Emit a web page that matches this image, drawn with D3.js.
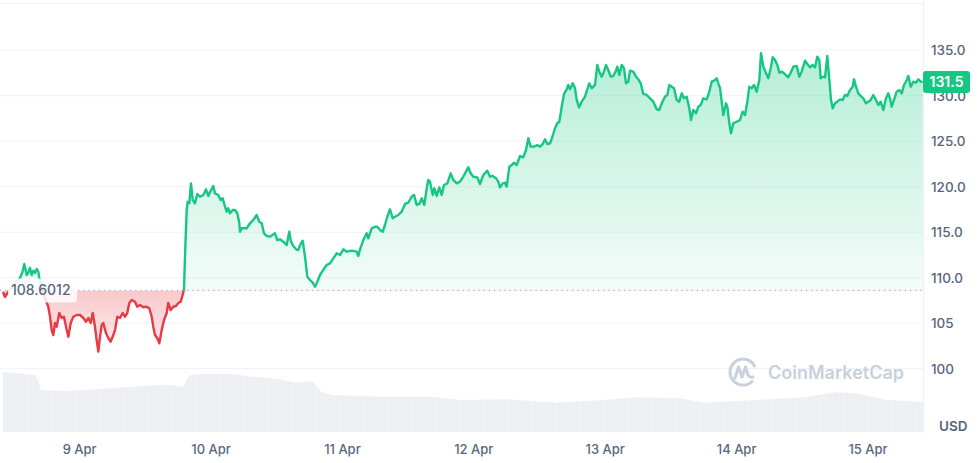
<!DOCTYPE html>
<html>
<head>
<meta charset="utf-8">
<script src="https://cdn.jsdelivr.net/npm/d3@7"></script>
<style>
  body { margin: 0; background: #fff; font-family: Inter, "Noto Sans", sans-serif; }
  .axis text { fill: #58667e; font-size: 13px; font-family: Inter, sans-serif; font-weight: 500; }
  .y-axis text { font-size: 13.5px; }
</style>
</head>
<body>
<div id="chart"></div>
<script>
(function () {

  // hours after 8 Apr 00:00
  var priceHours = [
    10.10,10.47,11.38,12.29,13.21,13.66,13.99,14.43,14.72,15.03,15.34,15.63,15.95,16.26,16.55,16.73,17.22,17.77,18.37,18.69,
    19.00,19.29,19.60,19.91,20.38,20.82,21.24,21.74,22.03,22.47,22.94,23.56,24.16,24.77,25.26,25.68,26.12,26.48,26.90,27.21,
    27.51,27.82,28.13,28.42,28.91,29.33,29.77,30.25,30.56,30.98,31.47,31.96,32.38,32.80,33.17,33.61,34.21,34.63,35.12,35.73,
    36.35,36.82,37.26,37.55,37.86,38.28,38.65,39.09,39.51,40.00,40.29,40.73,41.21,41.70,42.12,42.56,42.92,43.16,43.40,43.65,
    43.84,44.13,44.44,44.75,45.17,45.59,46.08,46.69,47.18,47.60,48.04,48.51,48.82,49.42,49.86,50.23,50.65,50.96,51.25,51.56,
    52.06,52.48,52.90,53.26,53.39,53.70,54.61,55.22,55.82,56.44,56.91,57.35,57.77,58.27,58.87,59.78,60.20,60.69,61.30,61.92,
    62.39,62.70,63.12,63.62,64.04,64.35,64.84,65.26,65.68,66.17,66.67,67.09,67.51,68.00,68.60,69.22,69.83,70.43,71.05,71.65,
    72.26,72.88,73.79,74.70,75.00,75.31,75.91,76.53,76.82,77.44,78.05,78.47,78.96,79.45,79.87,80.29,80.79,81.28,81.70,82.30,
    82.92,83.53,84.13,84.75,85.17,85.66,86.14,86.58,87.05,87.49,87.78,88.09,88.59,88.88,89.32,89.79,90.23,90.65,91.25,91.87,
    92.35,92.97,93.57,94.17,94.67,95.09,95.53,96.00,96.73,97.22,97.83,98.56,99.05,99.54,100.15,100.57,100.88,101.37,101.79,102.10,
    102.58,103.01,103.43,103.93,104.53,105.13,105.63,106.05,106.48,107.09,107.69,108.18,108.68,109.10,109.52,110.01,110.50,110.92,111.34,111.71,
    112.15,112.57,113.06,113.35,113.66,114.16,114.58,114.89,115.31,115.80,116.40,116.82,117.19,117.63,118.23,118.65,119.02,119.45,119.87,120.24,
    120.66,121.10,121.57,122.06,122.30,122.67,123.11,123.53,123.89,124.31,124.62,125.22,125.72,126.14,126.58,127.05,127.67,128.28,128.88,129.50,
    129.97,130.41,131.01,131.43,131.80,132.24,132.66,133.15,133.63,134.07,134.49,134.98,135.45,135.76,136.18,136.68,137.10,137.54,138.01,138.63,
    139.11,139.54,139.96,140.46,140.75,141.06,141.37,141.66,142.16,142.40,142.76,143.07,143.49,144.11,144.71,145.21,145.63,146.05,146.41,146.85,
    147.27,147.76,148.24,148.55,148.97,149.46,149.88,150.32,150.69,151.11,151.53,151.89,152.33,152.75,153.12,153.54,153.97,154.45,155.07,155.54,
    155.98,156.59,157.01,157.50,157.99,158.41,158.83,159.20,159.45,159.82,160.24,160.66,161.03,161.33,161.65,162.07,162.49,162.98,163.47,163.89,
    164.31,164.81,165.30,165.54,165.90,166.32,166.76,167.23,167.73,168.15,168.59,169.06,169.55,169.98,170.41,170.89,171.38,171.80,172.11,172.42,
    172.84,173.33,173.81,174.25,174.67,175.16,175.45,175.89,176.37,176.86,177.28,177.72,178.08
  ]

  var priceValues = [
    108.43,107.88,108.76,109.31,109.97,110.63,111.51,110.30,110.52,111.07,110.30,110.77,110.52,110.96,110.66,109.97,108.87,107.77,106.81,105.71,
    104.25,103.70,105.02,104.62,106.12,105.57,105.71,104.25,103.52,105.02,105.71,105.90,105.90,105.57,105.16,105.57,105.02,106.12,104.62,103.15,
    101.87,103.52,104.80,105.02,103.92,103.37,102.97,103.70,104.25,105.71,105.57,106.12,105.71,106.12,107.22,107.55,107.36,106.81,107.00,106.75,
    106.81,106.64,105.71,104.62,103.70,103.34,102.79,104.25,105.35,106.12,107.22,106.45,106.81,106.89,107.22,107.36,108.10,108.73,113.41,117.44,
    118.35,118.18,120.37,118.54,118.18,119.20,118.90,119.09,119.71,118.98,119.56,120.08,119.27,119.09,118.54,118.73,117.80,117.25,117.63,117.08,
    117.44,117.44,117.08,116.01,115.05,115.43,115.43,115.98,116.34,116.89,116.15,115.98,114.88,114.58,114.51,114.88,114.14,114.22,113.96,113.59,
    115.05,113.96,113.48,113.12,113.04,113.59,114.07,112.31,110.11,109.75,109.45,109.01,109.56,110.30,110.85,111.40,111.58,112.13,112.68,112.49,
    113.12,112.86,112.97,112.86,112.38,113.12,114.14,114.88,114.33,115.43,115.60,115.60,115.24,115.05,115.79,116.70,117.52,116.53,116.70,116.89,
    117.25,118.10,118.24,118.90,119.09,117.99,118.10,118.73,117.99,119.82,120.74,120.55,119.09,119.82,118.98,119.93,119.09,120.19,120.37,121.47,
    120.74,120.37,120.55,121.10,121.65,122.13,121.47,121.10,121.03,120.30,121.29,121.76,121.10,121.18,120.92,120.55,119.93,120.37,120.44,120.00,
    122.20,122.38,122.64,122.38,123.37,123.23,124.03,125.32,124.40,124.40,124.58,124.40,124.69,125.21,124.69,124.77,125.57,126.42,126.97,127.14,
    128.79,130.19,130.70,131.18,130.70,131.36,130.81,129.53,128.72,129.34,129.89,130.70,131.36,130.81,131.18,133.37,132.64,132.09,132.64,133.37,
    132.82,132.09,132.16,132.75,133.19,132.27,133.37,133.01,131.36,131.54,132.75,132.64,132.09,131.80,131.36,130.19,130.08,129.71,129.34,128.51,
    128.43,129.16,129.89,130.08,131.18,130.99,130.81,129.53,129.34,130.26,129.71,129.89,128.62,127.33,128.43,128.07,128.79,128.98,129.71,129.60,
    130.44,131.54,131.65,131.91,131.36,130.85,129.34,127.88,129.16,128.79,126.97,125.87,126.97,127.14,127.33,128.24,127.88,129.34,130.99,130.81,
    131.18,130.44,131.73,134.66,133.19,132.46,131.91,133.01,134.22,133.92,133.37,132.53,132.64,132.46,132.27,132.02,132.53,133.19,133.26,132.09,
    132.64,133.85,133.48,133.12,133.37,133.12,134.29,133.92,131.91,132.09,132.02,134.36,131.73,129.53,128.62,129.16,129.34,129.60,129.53,130.08,
    129.97,130.63,130.99,131.80,130.99,130.26,129.97,129.71,129.16,129.34,129.53,130.08,129.53,128.98,129.34,128.43,129.71,130.26,129.71,128.79,
    129.53,130.44,130.63,130.26,131.18,131.73,132.16,130.99,131.54,131.43,131.80,131.54,131.50
  ]

  var volumeHours = [10.10,15.95,16.49,17.04,21.79,27.82,33.30,36.95,40.60,42.98,43.53,44.26,46.08,51.56,55.76,60.15,63.80,66.54,
    67.64,68.37,70.19,78.96,88.46,93.57,102.34,111.11,119.87,125.72,133.75,138.14,147.64,156.40,162.25,165.90,171.75,178.08]
  var volumeValues = [100,95,86.7,70,68.3,71.7,75,77.5,78.3,75,85,95,96.7,96.7,92.2,88.3,82.2,85,
    73.3,66.7,61.7,58.8,58.8,53.3,54.5,48.8,53.3,57.8,56.2,48.8,53.3,57.8,66.2,64.5,53.3,50]

  var openPrice = 108.6012
  var lastPrice = 131.5
  var yTicks = [100, 105, 110, 115, 120, 125, 130, 135]
  var yTickLabels = ['100', '105', '110.0', '115.0', '120.0', '125.0', '130.0', '135.0']
  var xTickDays = [9, 10, 11, 12, 13, 14, 15]

  var width = 978, height = 463, plotRight = 923
  var green = '#16c784', red = '#ea3943'

  var startDay = Date.UTC(2024, 3, 8)
  function hourToDate(h) { return new Date(startDay + h * 3600 * 1000) }

  var svg = d3.select('#chart')
    .append('svg')
    .attr('width', width)
    .attr('height', height)
    .style('display', 'block')

  var xPositionScale = d3.scaleUtc()
    .domain([hourToDate(0), hourToDate(192)])
    .range([-52.3, 998.9])

  var yPositionScale = d3.scaleLinear()
    .domain([100, 135])
    .range([368.7, 50.2])

  var volumeScale = d3.scaleLinear()
    .domain([0, 100])
    .range([432, 372])

  var points = priceHours.map(function (h, i) {
    return { date: hourToDate(h), price: priceValues[i] }
  })
  var volPoints = volumeHours.map(function (h, i) {
    return { date: hourToDate(h), volume: volumeValues[i] }
  })

  var baseY = yPositionScale(openPrice)

  var defs = svg.append('defs')
  defs.append('clipPath').attr('id', 'above-clip')
    .append('rect').attr('x', 0).attr('y', 0).attr('width', plotRight).attr('height', baseY)
  defs.append('clipPath').attr('id', 'below-clip')
    .append('rect').attr('x', 0).attr('y', baseY).attr('width', plotRight).attr('height', height - baseY)

  var gGreen = defs.append('linearGradient').attr('id', 'grad-green')
    .attr('gradientUnits', 'userSpaceOnUse')
    .attr('x1', 0).attr('x2', 0).attr('y1', 50).attr('y2', baseY)
  gGreen.append('stop').attr('offset', 0).attr('stop-color', green).attr('stop-opacity', 0.32)
  gGreen.append('stop').attr('offset', 1).attr('stop-color', green).attr('stop-opacity', 0.05)

  var gRed = defs.append('linearGradient').attr('id', 'grad-red')
    .attr('gradientUnits', 'userSpaceOnUse')
    .attr('x1', 0).attr('x2', 0).attr('y1', baseY).attr('y2', 355)
  gRed.append('stop').attr('offset', 0).attr('stop-color', red).attr('stop-opacity', 0.28)
  gRed.append('stop').attr('offset', 1).attr('stop-color', red).attr('stop-opacity', 0.07)

  var pat = defs.append('pattern').attr('id', 'vol-pattern')
    .attr('patternUnits', 'userSpaceOnUse')
    .attr('width', 3).attr('height', 10)
  pat.append('rect').attr('width', 3).attr('height', 10).attr('fill', '#eceef2')
  pat.append('rect').attr('x', 2.2).attr('width', 0.8).attr('height', 10).attr('fill', '#f4f5f7')

  // grid
  svg.append('line')
    .attr('x1', 0).attr('x2', plotRight)
    .attr('y1', 3.5).attr('y2', 3.5)
    .attr('stroke', '#f0f2f5')

  svg.selectAll('.grid')
    .data(yTicks)
    .enter().append('line')
    .attr('class', 'grid')
    .attr('x1', 0).attr('x2', plotRight)
    .attr('y1', function (d) { return yPositionScale(d) })
    .attr('y2', function (d) { return yPositionScale(d) })
    .attr('stroke', '#eff2f5')
    .attr('stroke-width', 1)

  svg.append('line')
    .attr('x1', plotRight + 0.5).attr('x2', plotRight + 0.5)
    .attr('y1', 0).attr('y2', 433)
    .attr('stroke', '#eceff3')

  // volume
  var volArea = d3.area()
    .x(function (d) { return xPositionScale(d.date) })
    .y0(volumeScale(0))
    .y1(function (d) { return volumeScale(d.volume) })

  svg.append('path')
    .datum(volPoints)
    .attr('d', volArea)
    .attr('fill', 'url(#vol-pattern)')

  // watermark
  var wm = svg.append('g').attr('transform', 'translate(743,372)')
  wm.append('path')
    .attr('d', 'M 9 9.5 A 13 13 0 1 1 11.5 -6')
    .attr('fill', 'none')
    .attr('stroke', '#c9d0dc')
    .attr('stroke-width', 3)
    .attr('stroke-linecap', 'round')
  wm.append('path')
    .attr('d', 'M -8 6 L -4.5 -5 L -1 5 L 2.5 -5 L 5 3 Q 7 6 10 5')
    .attr('fill', 'none')
    .attr('stroke', '#c9d0dc')
    .attr('stroke-width', 3)
    .attr('stroke-linecap', 'round')
    .attr('stroke-linejoin', 'round')
  wm.append('text')
    .text('CoinMarketCap')
    .attr('x', 25)
    .attr('y', 6.5)
    .attr('font-size', '18px')
    .attr('font-weight', 600)
    .attr('fill', '#c9d0dc')

  // price fills
  var area = d3.area()
    .x(function (d) { return xPositionScale(d.date) })
    .y0(baseY)
    .y1(function (d) { return yPositionScale(d.price) })

  var line = d3.line()
    .x(function (d) { return xPositionScale(d.date) })
    .y(function (d) { return yPositionScale(d.price) })

  svg.append('path')
    .datum(points)
    .attr('d', area)
    .attr('fill', 'url(#grad-green)')
    .attr('clip-path', 'url(#above-clip)')

  svg.append('path')
    .datum(points)
    .attr('d', area)
    .attr('fill', 'url(#grad-red)')
    .attr('clip-path', 'url(#below-clip)')

  svg.append('line')
    .attr('x1', 0).attr('x2', plotRight)
    .attr('y1', baseY).attr('y2', baseY)
    .attr('stroke', '#a6b0c3')
    .attr('stroke-width', 1.2)
    .attr('stroke-dasharray', '1.2,4')

  svg.append('path')
    .datum(points)
    .attr('d', line)
    .attr('fill', 'none')
    .attr('stroke', green)
    .attr('stroke-width', 2.4)
    .attr('stroke-linejoin', 'round')
    .attr('clip-path', 'url(#above-clip)')

  svg.append('path')
    .datum(points)
    .attr('d', line)
    .attr('fill', 'none')
    .attr('stroke', red)
    .attr('stroke-width', 2.4)
    .attr('stroke-linejoin', 'round')
    .attr('clip-path', 'url(#below-clip)')

  // open price label
  svg.append('rect')
    .attr('x', 8).attr('y', baseY - 12)
    .attr('width', 69).attr('height', 24)
    .attr('rx', 4)
    .attr('fill', '#fff')
    .attr('fill-opacity', 0.85)

  svg.append('text')
    .text(openPrice)
    .attr('x', 11)
    .attr('y', baseY + 5)
    .attr('font-size', '14px')
    .attr('font-weight', 500)
    .attr('fill', '#58667e')

  // axes
  var yAxis = d3.axisRight(yPositionScale)
    .tickValues(yTicks)
    .tickSize(0)
    .tickPadding(8)
    .tickFormat(function (d, i) { return yTickLabels[i] })

  svg.append('g')
    .attr('class', 'axis y-axis')
    .attr('transform', 'translate(' + plotRight + ',0)')
    .call(yAxis)
    .select('.domain').remove()

  var xAxis = d3.axisBottom(xPositionScale)
    .tickValues(xTickDays.map(function (d) { return hourToDate((d - 8) * 24) }))
    .tickSize(0)
    .tickPadding(0)
    .tickFormat(d3.utcFormat('%-d %b'))

  svg.append('g')
    .attr('class', 'axis x-axis')
    .attr('transform', 'translate(0,445)')
    .call(xAxis)
    .select('.domain').remove()

  svg.append('text')
    .text('USD')
    .attr('x', 939)
    .attr('y', 431)
    .attr('font-size', '13.5px')
    .attr('font-weight', 600)
    .attr('fill', '#58667e')

  // last price badge
  var lastY = yPositionScale(lastPrice)
  svg.append('rect')
    .attr('x', plotRight).attr('y', lastY - 11)
    .attr('width', 47).attr('height', 22)
    .attr('rx', 3)
    .attr('fill', green)

  svg.append('text')
    .text(lastPrice)
    .attr('x', plotRight + 23.5)
    .attr('y', lastY + 5)
    .attr('text-anchor', 'middle')
    .attr('font-size', '14px')
    .attr('font-weight', 600)
    .attr('fill', '#fff')

})()
</script>
</body>
</html>
